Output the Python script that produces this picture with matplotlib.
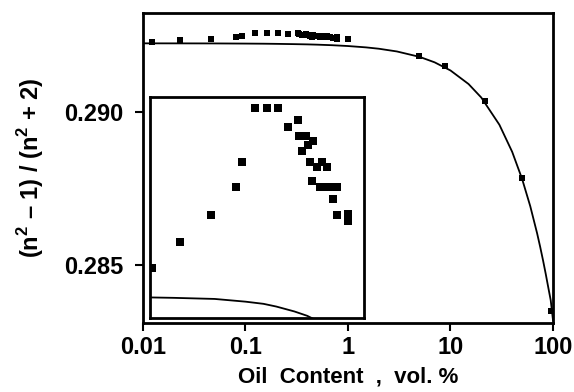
import numpy as np
import matplotlib
matplotlib.use("Agg")
import matplotlib.pyplot as plt

plt.rcParams['font.family'] = ['Liberation Sans', 'DejaVu Sans']
plt.rcParams['font.weight'] = 'bold'
plt.rcParams['axes.labelweight'] = 'bold'
plt.rcParams['mathtext.fontset'] = 'custom'
plt.rcParams['mathtext.rm'] = 'Liberation Sans:bold'
plt.rcParams['mathtext.bf'] = 'Liberation Sans:bold'

# measured points (oil content vol.%, Lorentz-Lorenz value)
oil = [0.01216, 0.02296, 0.04571, 0.0807, 0.0918, 0.1239, 0.161, 0.209,
       0.262, 0.323, 0.330, 0.389, 0.353, 0.410, 0.459, 0.426, 0.494,
       0.553, 0.628, 0.443, 0.533, 0.597, 0.668, 0.776, 0.709, 0.776,
       0.996, 0.996, 4.93, 8.83, 21.7, 49.9, 95.5]
ll = [0.292297, 0.292346, 0.292395, 0.292446, 0.292492, 0.292592, 0.292592,
      0.292592, 0.292556, 0.292570, 0.292541, 0.292541, 0.292513, 0.292524,
      0.292532, 0.292493, 0.292484, 0.292493, 0.292483, 0.292457, 0.292446,
      0.292446, 0.292446, 0.292446, 0.292424, 0.292395, 0.292397, 0.292385,
      0.29183, 0.29150, 0.29036, 0.28784, 0.28350]

# mixing curve
curve_x = [0.01, 0.02, 0.05, 0.1, 0.15, 0.2, 0.3, 0.4, 0.5, 0.7, 1, 1.5, 2,
           3, 5, 7, 10, 15, 20, 30, 40, 50, 60, 70, 75, 80, 85, 90, 95, 100]
curve_y = [0.292244, 0.292243, 0.292241, 0.292236, 0.292232, 0.292227,
           0.292218, 0.292210, 0.292201, 0.292183, 0.292156, 0.292112,
           0.292068, 0.291979, 0.291802, 0.291624, 0.291358, 0.290915,
           0.290471, 0.289584, 0.288697, 0.287810, 0.286923, 0.286036,
           0.285592, 0.285149, 0.284705, 0.284262, 0.283850, 0.283200]

xticks = [0.01, 0.1, 1, 10, 100]
xticklabels = ['0.01', '0.1', '1', '10', '100']
yticks = [0.285, 0.290]
yticklabels = ['0.285', '0.290']

fig = plt.figure(figsize=(5.74, 3.92), dpi=100)
ax = fig.add_axes([0.249, 0.176, 0.7144, 0.7908])
ax.plot(curve_x, curve_y, color='black', lw=1.3)
ax.plot(oil, ll, 's', color='black', ms=4.5, mew=0)
ax.set_xscale('log')
ax.set_xlim(0.01, 100)
ax.set_ylim(0.283105, 0.293235)
ax.set_xticks(xticks)
ax.set_xticklabels(xticklabels)
ax.set_yticks(yticks)
ax.set_yticklabels(yticklabels)
ax.minorticks_off()
ax.tick_params(labelsize=17, length=6, width=1.5)
ax.tick_params(axis='y', pad=8)
ax.tick_params(axis='x', pad=3)
for s in ax.spines.values():
    s.set_linewidth(2)
ax.set_xlabel('Oil  Content  ,  vol. %', fontsize=16, labelpad=6)
ax.set_ylabel('(n$^2$ \u2013 1) / (n$^2$ + 2)', fontsize=17, labelpad=13)

# inset: magnified view of the low-content region
ins = fig.add_axes([0.2613, 0.1888, 0.3728, 0.5638])
ins.plot(curve_x, curve_y, color='black', lw=1.3)
ins.plot(oil, ll, 's', color='black', ms=5.3, mew=0)
ins.set_xscale('log')
ins.set_xlim(0.0117, 1.432)
ins.set_ylim(0.292206, 0.292612)
ins.set_xticks([])
ins.set_yticks([])
ins.minorticks_off()
for s in ins.spines.values():
    s.set_linewidth(2)

fig.savefig("out.png", dpi=100)
